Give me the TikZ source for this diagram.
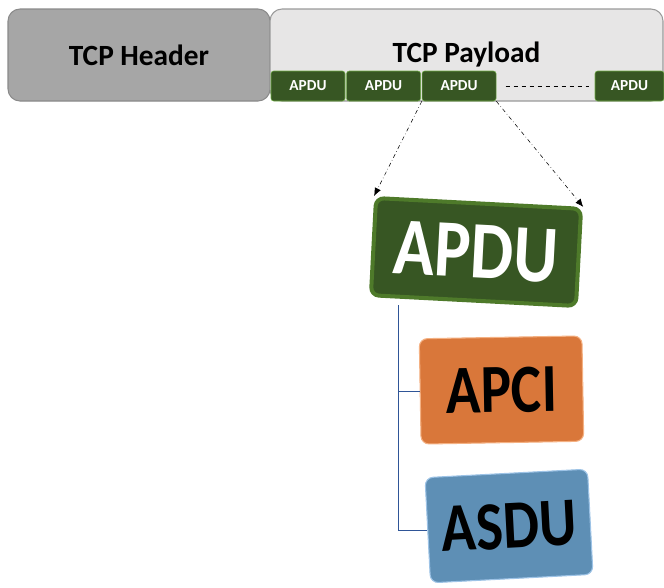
\documentclass[tikz,border=0pt]{standalone}
\usepackage{fontspec}
\setmainfont{Carlito}
\usetikzlibrary{arrows.meta, positioning}

\definecolor{hdrgray}{HTML}{A6A6A6}
\definecolor{hdredge}{HTML}{8A8A8A}
\definecolor{payfill}{HTML}{E7E6E6}
\definecolor{payedge}{HTML}{9A9A9A}
\definecolor{apdugreen}{HTML}{375623}
\definecolor{apduedge}{HTML}{70AD47}
\definecolor{bigedge}{HTML}{4E7A2A}
\definecolor{apcifill}{HTML}{D9773A}
\definecolor{apciedge}{HTML}{F4B183}
\definecolor{asdufill}{HTML}{5E8FB5}
\definecolor{asduedge}{HTML}{9DC3E6}
\definecolor{treeblue}{HTML}{2F5597}

\newcommand{\stretched}[1]{\scalebox{1}[1.2]{#1}}

\begin{document}
\begin{tikzpicture}[x=0.75pt, y=-0.75pt, node distance=0.75pt, >=Latex,
    tcpbox/.style={rectangle, rounded corners=9pt, thick, minimum height=69pt, inner sep=0pt, font=\bfseries\fontsize{22}{26}\selectfont},
    apdusmall/.style={rectangle, rounded corners=2pt, draw=apduedge, fill=apdugreen, text=white, minimum width=55.5pt, minimum height=22.5pt, inner sep=0pt, font=\bfseries\fontsize{11.5}{12}\selectfont},
    bigbox/.style={rectangle, rounded corners=6pt, draw=bigedge, line width=3pt, fill=apdugreen, text=white, minimum width=154pt, minimum height=73pt, inner sep=0pt, font=\bfseries\fontsize{51}{51}\selectfont},
    partbox/.style={rectangle, rounded corners=6pt, thick, minimum width=122pt, minimum height=79pt, inner sep=0pt, font=\bfseries\fontsize{43}{43}\selectfont},
    split/.style={->, dash dot, thin, black, >={Latex[length=6pt, width=5pt]}},
    tree/.style={treeblue, semithick}]

    \useasboundingbox (0,0) rectangle (664,587);

    % TCP segment
    \node (tcp_header) [tcpbox, draw=hdredge, fill=hdrgray, minimum width=196.5pt] at (139,55) {TCP Header};
    \node (tcp_payload) [tcpbox, draw=payedge, fill=payfill, minimum width=294.75pt] at (466.5,55) {\raisebox{-2pt}{TCP Payload}};

    % APDUs in the payload
    \node (apdu1) [apdusmall] at (308,86) {APDU};
    \node (apdu2) [apdusmall, right=of apdu1] {APDU};
    \node (apdu3) [apdusmall, right=of apdu2] {APDU};
    \node (apdu4) [apdusmall, minimum width=51.75pt] at (629.5,86) {APDU};
    \draw[dashed, thin, shorten <=7pt, shorten >=4pt] (apdu3) -- (apdu4);

    % Expanded APDU
    \node (apdu_big) [bigbox, rotate=-3] at (476,252) {\stretched{APDU}};
    \draw[split] (apdu3.south west) -- (apdu_big.north west);
    \draw[split] (apdu3.south east) -- (apdu_big.north east);

    % Parts
    \node (apci) [partbox, draw=apciedge, fill=apcifill, rotate=1] at (501.5,390) {\stretched{APCI}};
    \node (asdu) [partbox, draw=asduedge, fill=asdufill, rotate=3] at (509,526) {\stretched{ASDU}};

    \coordinate (trunk) at (398,305);
    \draw[tree] (trunk) |- (apci.west);
    \draw[tree] (trunk) |- (asdu.west);

\end{tikzpicture}
\end{document}
